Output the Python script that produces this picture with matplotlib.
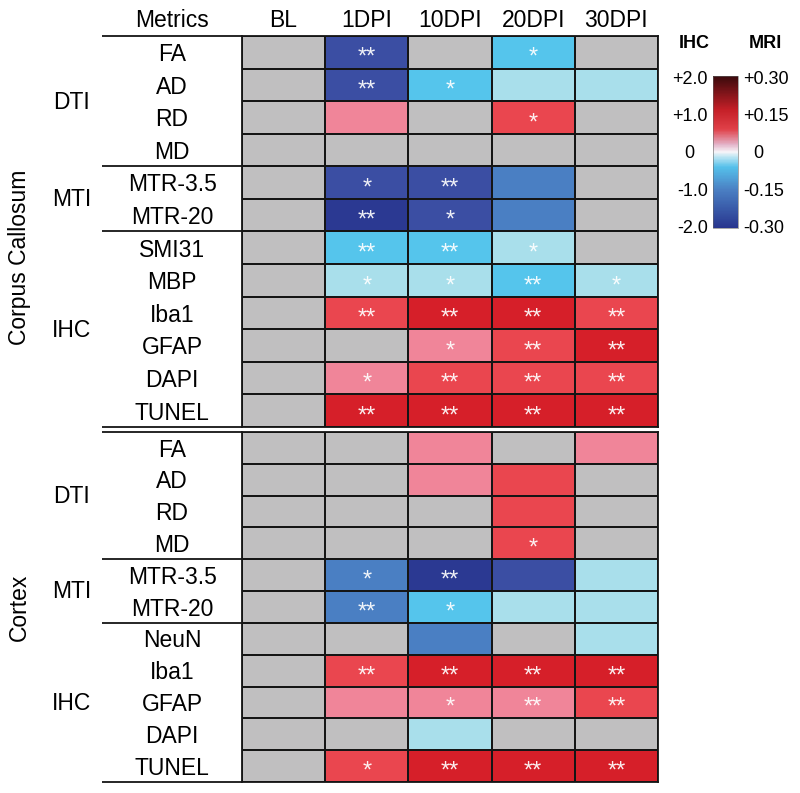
import numpy as np
import matplotlib
matplotlib.use('Agg')
import matplotlib.pyplot as plt
import matplotlib.transforms as mtransforms
from matplotlib.colors import ListedColormap, BoundaryNorm, LinearSegmentedColormap, Normalize
from matplotlib.cm import ScalarMappable

plt.rcParams['font.family'] = ['Liberation Sans', 'DejaVu Sans']

# columns (time points)
timepoints = ["BL", "1DPI", "10DPI", "20DPI", "30DPI"]

# level codes: -5 navy .. -1 pale blue, 0 = not significant (gray), 1 pink .. 3 dark red
cc_metrics = ["FA", "AD", "RD", "MD", "MTR-3.5", "MTR-20",
              "SMI31", "MBP", "Iba1", "GFAP", "DAPI", "TUNEL"]
cc_groups = [("DTI", 0, 4), ("MTI", 4, 6), ("IHC", 6, 12)]
cc_levels = [
    [0, -4, 0, -2, 0],
    [0, -4, -2, -1, -1],
    [0, 1, 0, 2, 0],
    [0, 0, 0, 0, 0],
    [0, -4, -4, -3, 0],
    [0, -5, -4, -3, 0],
    [0, -2, -2, -1, 0],
    [0, -1, -1, -2, -1],
    [0, 2, 3, 3, 2],
    [0, 0, 1, 2, 3],
    [0, 1, 2, 2, 2],
    [0, 3, 3, 3, 3],
]
cc_stars = [
    [0, 2, 0, 1, 0],
    [0, 2, 1, 0, 0],
    [0, 0, 0, 1, 0],
    [0, 0, 0, 0, 0],
    [0, 1, 2, 0, 0],
    [0, 2, 1, 0, 0],
    [0, 2, 2, 1, 0],
    [0, 1, 1, 2, 1],
    [0, 2, 2, 2, 2],
    [0, 0, 1, 2, 2],
    [0, 1, 2, 2, 2],
    [0, 2, 2, 2, 2],
]

cx_metrics = ["FA", "AD", "RD", "MD", "MTR-3.5", "MTR-20",
              "NeuN", "Iba1", "GFAP", "DAPI", "TUNEL"]
cx_groups = [("DTI", 0, 4), ("MTI", 4, 6), ("IHC", 6, 11)]
cx_levels = [
    [0, 0, 1, 0, 1],
    [0, 0, 1, 2, 0],
    [0, 0, 0, 2, 0],
    [0, 0, 0, 2, 0],
    [0, -3, -5, -4, -1],
    [0, -3, -2, -1, -1],
    [0, 0, -3, 0, -1],
    [0, 2, 3, 3, 3],
    [0, 1, 1, 1, 2],
    [0, 0, -1, 0, 0],
    [0, 2, 3, 3, 3],
]
cx_stars = [
    [0, 0, 0, 0, 0],
    [0, 0, 0, 0, 0],
    [0, 0, 0, 0, 0],
    [0, 0, 0, 1, 0],
    [0, 1, 2, 0, 0],
    [0, 2, 1, 0, 0],
    [0, 0, 0, 0, 0],
    [0, 2, 2, 2, 2],
    [0, 0, 1, 2, 2],
    [0, 0, 0, 0, 0],
    [0, 1, 2, 2, 2],
]

ihc_ticks = [2, 1, -1, -2]
ihc_labels = ["+2.0", "+1.0", "-1.0", "-2.0"]
mri_ticks = [0.30, 0.15, -0.15, -0.30]
mri_labels = ["+0.30", "+0.15", "-0.15", "-0.30"]

level_colors = ["#2b3992", "#3b4ea3", "#4a7fc3", "#55c5ec", "#a9dfeb",
                "#c0bfc0", "#f08599", "#ea464f", "#d61f29"]
cmap = ListedColormap(level_colors)
norm = BoundaryNorm(np.arange(-5.5, 4.5, 1), cmap.N)

cb_cmap = LinearSegmentedColormap.from_list(
    "ihc", [(0.0, "#28358e"), (0.25, "#4a7fc3"), (0.40, "#55c0ea"),
            (0.47, "#bfe6f3"), (0.5, "#f6f4f8"), (0.55, "#e3b2c8"),
            (0.65, "#e04048"), (0.78, "#c41f27"), (1.0, "#3a0a0c")])

EDGE = "#151515"
LW = 1.3
FS = 16.5

fig = plt.figure(figsize=(8, 7.93), dpi=100)


def px_axes(x0, y0, x1, y1):
    return fig.add_axes([x0 / 800, 1 - y1 / 793, (x1 - x0) / 800, (y1 - y0) / 793])


def block(ax, metrics, groups, levels, stars, region, region_y, header=False):
    n = len(metrics)
    lv = np.array(levels)
    st = np.array(stars)
    ax.pcolormesh(np.arange(len(timepoints) + 1), np.arange(n + 1), lv,
                  cmap=cmap, norm=norm, edgecolors=EDGE, linewidth=LW)
    ax.set_xlim(0, len(timepoints))
    ax.set_ylim(n, 0)
    ax.set_xticks([])
    ax.set_yticks([])
    for sp in ax.spines.values():
        sp.set_linewidth(LW)
        sp.set_color(EDGE)

    blend = mtransforms.blended_transform_factory(ax.transAxes, ax.transData)
    for i, name in enumerate(metrics):
        ax.text(-0.168, i + 0.5 + 0.27, name, transform=blend,
                ha='center', va='baseline', fontsize=FS)
        for j in range(len(timepoints)):
            if st[i, j]:
                ax.text(j + 0.5, i + 0.5 + 0.36, "*" * st[i, j], color='white',
                        alpha=0.92, ha='center', va='baseline', fontsize=17)
    for name, a, b in groups:
        ax.text(-0.409, (a + b) / 2 + 0.23, name, transform=blend,
                ha='center', va='baseline', fontsize=FS)
        ax.plot([-0.3365, 0], [a, a], transform=blend, clip_on=False,
                color=EDGE, lw=LW, solid_capstyle='butt')
    ax.plot([-0.3365, 0], [n, n], transform=blend, clip_on=False,
            color=EDGE, lw=LW, solid_capstyle='butt')
    ax.text(-0.536, region_y, region, transform=blend, rotation=90,
            ha='center', va='center', fontsize=FS)

    if header:
        for j, t in enumerate(timepoints):
            ax.annotate(t, xy=(j + 0.5, 1), xycoords=('data', 'axes fraction'),
                        xytext=(0, 6.7), textcoords='offset points',
                        ha='center', va='baseline', fontsize=FS)
        ax.annotate("Metrics", xy=(-0.168, 1), xycoords='axes fraction',
                    xytext=(0, 6.7), textcoords='offset points',
                    ha='center', va='baseline', fontsize=FS)


ax_cc = px_axes(242, 36, 658, 427)
block(ax_cc, cc_metrics, cc_groups, cc_levels, cc_stars, "Corpus Callosum", 6.78, header=True)

ax_cx = px_axes(242, 432, 658, 782)
block(ax_cx, cx_metrics, cx_groups, cx_levels, cx_stars, "Cortex", 5.5)

# colour bar with IHC (left) and MRI (right) scales
cax = px_axes(713, 76, 738, 228)
cb = fig.colorbar(ScalarMappable(norm=Normalize(-2.05, 2.05), cmap=cb_cmap), cax=cax)
cb.outline.set_linewidth(0.4)
cb.outline.set_edgecolor("#666666")
cb.set_ticks(ihc_ticks, labels=ihc_labels)
cax.yaxis.set_ticks_position('left')
cax.tick_params(length=0, pad=3.6, labelsize=13)

ax_mri = px_axes(713, 76, 738, 228)
ax_mri.patch.set_visible(False)
for sp in ax_mri.spines.values():
    sp.set_visible(False)
ax_mri.set_xticks([])
ax_mri.set_ylim(-0.3075, 0.3075)
ax_mri.yaxis.set_ticks_position('right')
ax_mri.set_yticks(mri_ticks, mri_labels)
ax_mri.tick_params(length=0, pad=3.6, labelsize=13)

cb_blend = mtransforms.blended_transform_factory(cax.transAxes, cax.transData)
cax.text(-0.96, 0, "0", transform=cb_blend, ha='center', va='center_baseline', fontsize=13)
cax.text(1.8, 0, "0", transform=cb_blend, ha='center', va='center_baseline', fontsize=13)

fig.text(694 / 800, 1 - 44 / 793, "IHC", ha='center', va='center', fontsize=13, fontweight='bold')
fig.text(765 / 800, 1 - 44 / 793, "MRI", ha='center', va='center', fontsize=13, fontweight='bold')

fig.savefig("out.png", dpi=100)
